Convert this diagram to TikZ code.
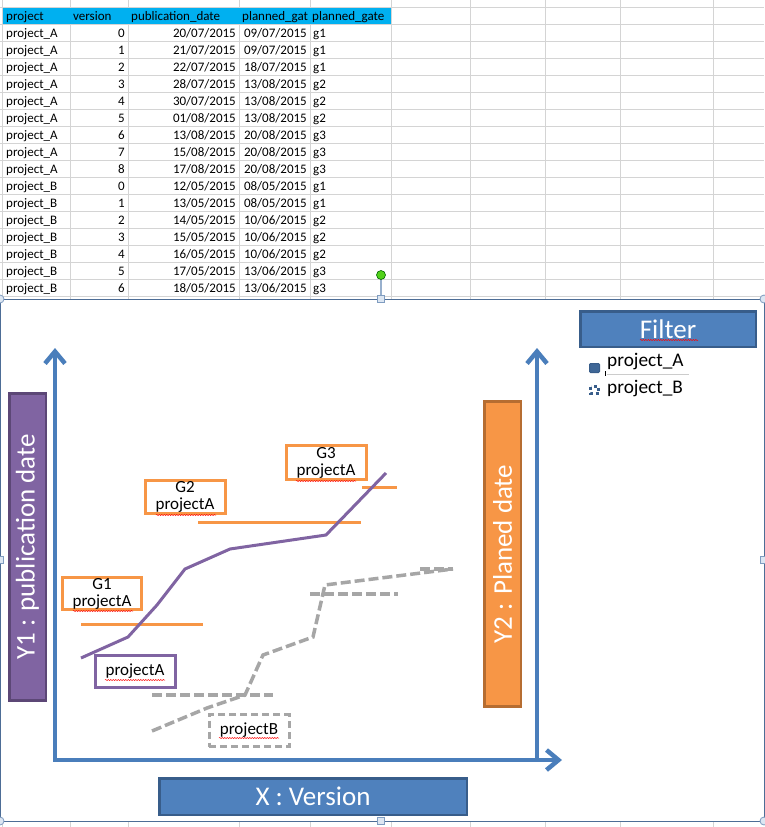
\documentclass[tikz,border=0pt]{standalone}
\usepackage{fontspec}
\setmainfont{Carlito}
\usetikzlibrary{arrows.meta, decorations.pathmorphing}

\definecolor{sheetblue}{HTML}{00B0F0}
\definecolor{gridgray}{HTML}{D4D4D4}
\definecolor{axisblue}{HTML}{4A7EBB}
\definecolor{boxblue}{HTML}{4F81BD}
\definecolor{boxblueline}{HTML}{385D8A}
\definecolor{vio}{HTML}{8064A2}
\definecolor{violine}{HTML}{5C4776}
\definecolor{orng}{HTML}{F79646}
\definecolor{orngline}{HTML}{B66D31}
\definecolor{dashgray}{HTML}{A6A6A6}
\definecolor{framegray}{HTML}{4D6D96}
\definecolor{handlefill}{HTML}{DCE6F2}
\definecolor{handleline}{HTML}{7F9CC0}

\tikzset{
  cell/.style={inner sep=0pt, font=\fontsize{13}{14}\selectfont},
  axisline/.style={axisblue, line width=4.5pt},
  axisbox/.style={draw, line width=2.5pt, inner sep=0pt, text=white, font=\fontsize{27}{30}\selectfont},
  gatebox/.style={draw=orng, fill=white, line width=3pt, minimum width=80pt, minimum height=33pt, inner sep=0pt, align=center, font=\fontsize{17}{17}\selectfont},
  gateline/.style={orng, line width=3pt},
  pline/.style={vio, line width=3pt},
  bline/.style={dashgray, line width=3.5pt, dash pattern=on 10pt off 4pt},
  spell/.style={red, line width=0.5pt, decorate, decoration={snake, amplitude=0.6pt, segment length=2.5pt}},
  handle/.style={draw=handleline, fill=handlefill, line width=0.8pt},
}

\begin{document}
\begin{tikzpicture}[x=1pt, y=-1pt]
        \useasboundingbox (0,0) rectangle (764,827);
        \foreach \gx in {2,70,128,239,310,391,470,545,620,713} {
          \draw[gridgray, line width=1pt] (\gx,0) -- (\gx,299);
          \draw[gridgray, line width=1pt] (\gx,821) -- (\gx,827);
        }
        \foreach \k in {0,...,17}
          \draw[gridgray, line width=1pt] (0,7+17*\k) -- (764,7+17*\k);
        \fill[sheetblue] (3,7.5) rectangle (391,23.5);
        \node[cell, anchor=base west] (hprj) at (6,20) {project};
        \node[cell, anchor=base west] (hver) at (73,20) {version};
        \node[cell, anchor=base west] (hpub) at (131,20) {publication\_date};
        \node[cell, anchor=base west] (hplan) at (242,20) {planned\_gat};
        \node[cell, anchor=base west] (hgate) at (312,20) {planned\_gate};
        \foreach \p/\v/\pd/\pm/\qd/\qm/\g [count=\r] in {
          A/0/20/07/09/07/1, A/1/21/07/09/07/1, A/2/22/07/18/07/1, A/3/28/07/13/08/2,
          A/4/30/07/13/08/2, A/5/01/08/13/08/2, A/6/13/08/20/08/3, A/7/15/08/20/08/3,
          A/8/17/08/20/08/3, B/0/12/05/08/05/1, B/1/13/05/08/05/1, B/2/14/05/10/06/2,
          B/3/15/05/10/06/2, B/4/16/05/10/06/2, B/5/17/05/13/06/3, B/6/18/05/13/06/3} {
          \node[cell, anchor=base west] (prj\r) at (6,20+17*\r) {project\_\p};
          \node[cell, anchor=base east] (ver\r) at (125,20+17*\r) {\v};
          \node[cell, anchor=base east] (pub\r) at (236,20+17*\r) {\pd/\pm/2015};
          \node[cell, anchor=base east] (plan\r) at (307,20+17*\r) {\qd/\qm/2015};
          \node[cell, anchor=base west] (gate\r) at (313,20+17*\r) {g\g};
        }

        \filldraw[fill=white, draw=framegray, line width=1pt] (0,299) rectangle (764,821);
        \draw[handleline!80, line width=2pt] (381,279) -- (381,296);
        \filldraw[fill=green!60!lime!80!black!90, draw=green!40!black, line width=0.6pt] (381,275) circle (4.5);
        \foreach \hx/\hy in {0/299, 764/299, 0/821, 764/821}
          \draw[handle] (\hx,\hy) circle (4);
        \foreach \hx/\hy in {381/299, 381/821, 0/560, 764/560}
          \draw[handle] (\hx-3.5,\hy-3.5) rectangle (\hx+3.5,\hy+3.5);

        \node[axisbox, fill=vio, draw=violine, rotate=90, minimum width=307pt, minimum height=36.5pt] (yone) at (27.5,547) {Y1 : publication date};
        \node[axisbox, fill=orng, draw=orngline, rotate=90, minimum width=305pt, minimum height=36.5pt] (ytwo) at (502.5,554) {Y2 : Planed date};
        \node[axisbox, fill=boxblue, draw=boxblueline, minimum width=307.5pt, minimum height=36.5pt] (xver) at (313,796.5) {X : Version};
        \node[axisbox, fill=boxblue, draw=boxblueline, minimum width=175.5pt, minimum height=35.5pt] (filt) at (668,329) {Filter};

        \draw[axisline, {Straight Barb[length=12pt,width=20pt]}-{Straight Barb[length=12pt,width=20pt]}] (55,348) coordinate (ytop) -- (55,760) coordinate (o) -- (562,760) coordinate (xend);
        \draw[axisline, -{Straight Barb[length=12pt,width=20pt]}] (537,760) coordinate (ro) -- (537,348) coordinate (rtop);

        \draw[gateline] (81,624) -- (203,624);
        \draw[gateline] (198,522) -- (361,522);
        \draw[gateline] (362,487) -- (397,487);
        \draw[pline] (81,658) -- (128,637) -- (157,605) -- (185,569) -- (230,549) -- (326,535) -- (386,473);
        \draw[bline] (152,695) -- (273,695);
        \draw[bline] (310,594) -- (398,594);
        \draw[bline] (420,569) -- (453,569);
        \draw[bline] (152,731) -- (207,708) -- (245,695) -- (263,655) -- (313,637) -- (325,585) -- (453,569);

        \node[gatebox, minimum width=79pt, minimum height=32pt] (gone) at (102,593.5) {G1\\projectA};
        \node[gatebox] (gtwo) at (185,497) {G2\\projectA};
        \node[gatebox, minimum height=34pt] (gthree) at (326,462.5) {G3\\projectA};
        \node[gatebox, draw=vio, minimum height=32pt] (pa) at (135,671.5) {projectA};
        \node[gatebox, draw=dashgray, dash pattern=on 7pt off 4pt, minimum height=32pt] (pb) at (249,730.5) {projectB};

        \draw[spell] (73,611) -- (133,611);
        \draw[spell] (156,515) -- (216,515);
        \draw[spell] (296,481) -- (356,481);
        \draw[spell] (105,680) -- (165,680);
        \draw[spell] (219,738) -- (279,738);
        \draw[spell] (640,340) -- (698,340);

        \filldraw[fill=boxblue!80!black, draw=boxblueline, line width=1pt, rounded corners=1pt] (589.5,363.5) rectangle (599.5,372.5);
        \draw[boxblueline, line width=2.2pt, dash pattern=on 3pt off 3pt] (590.5,386.5) rectangle (598.5,393.5);
        \node[anchor=west, inner sep=0pt, font=\fontsize{19.3}{21}\selectfont] (lega) at (607,362) {project\_A};
        \node[anchor=west, inner sep=0pt, font=\fontsize{19.3}{21}\selectfont] (legb) at (607,389) {project\_B};
        \draw[gray!40, line width=0.8pt] (607,374.5) -- (689,374.5);
        \draw[black, line width=0.6pt] (605.5,371) -- (605.5,376);
      \end{tikzpicture}
\end{document}
